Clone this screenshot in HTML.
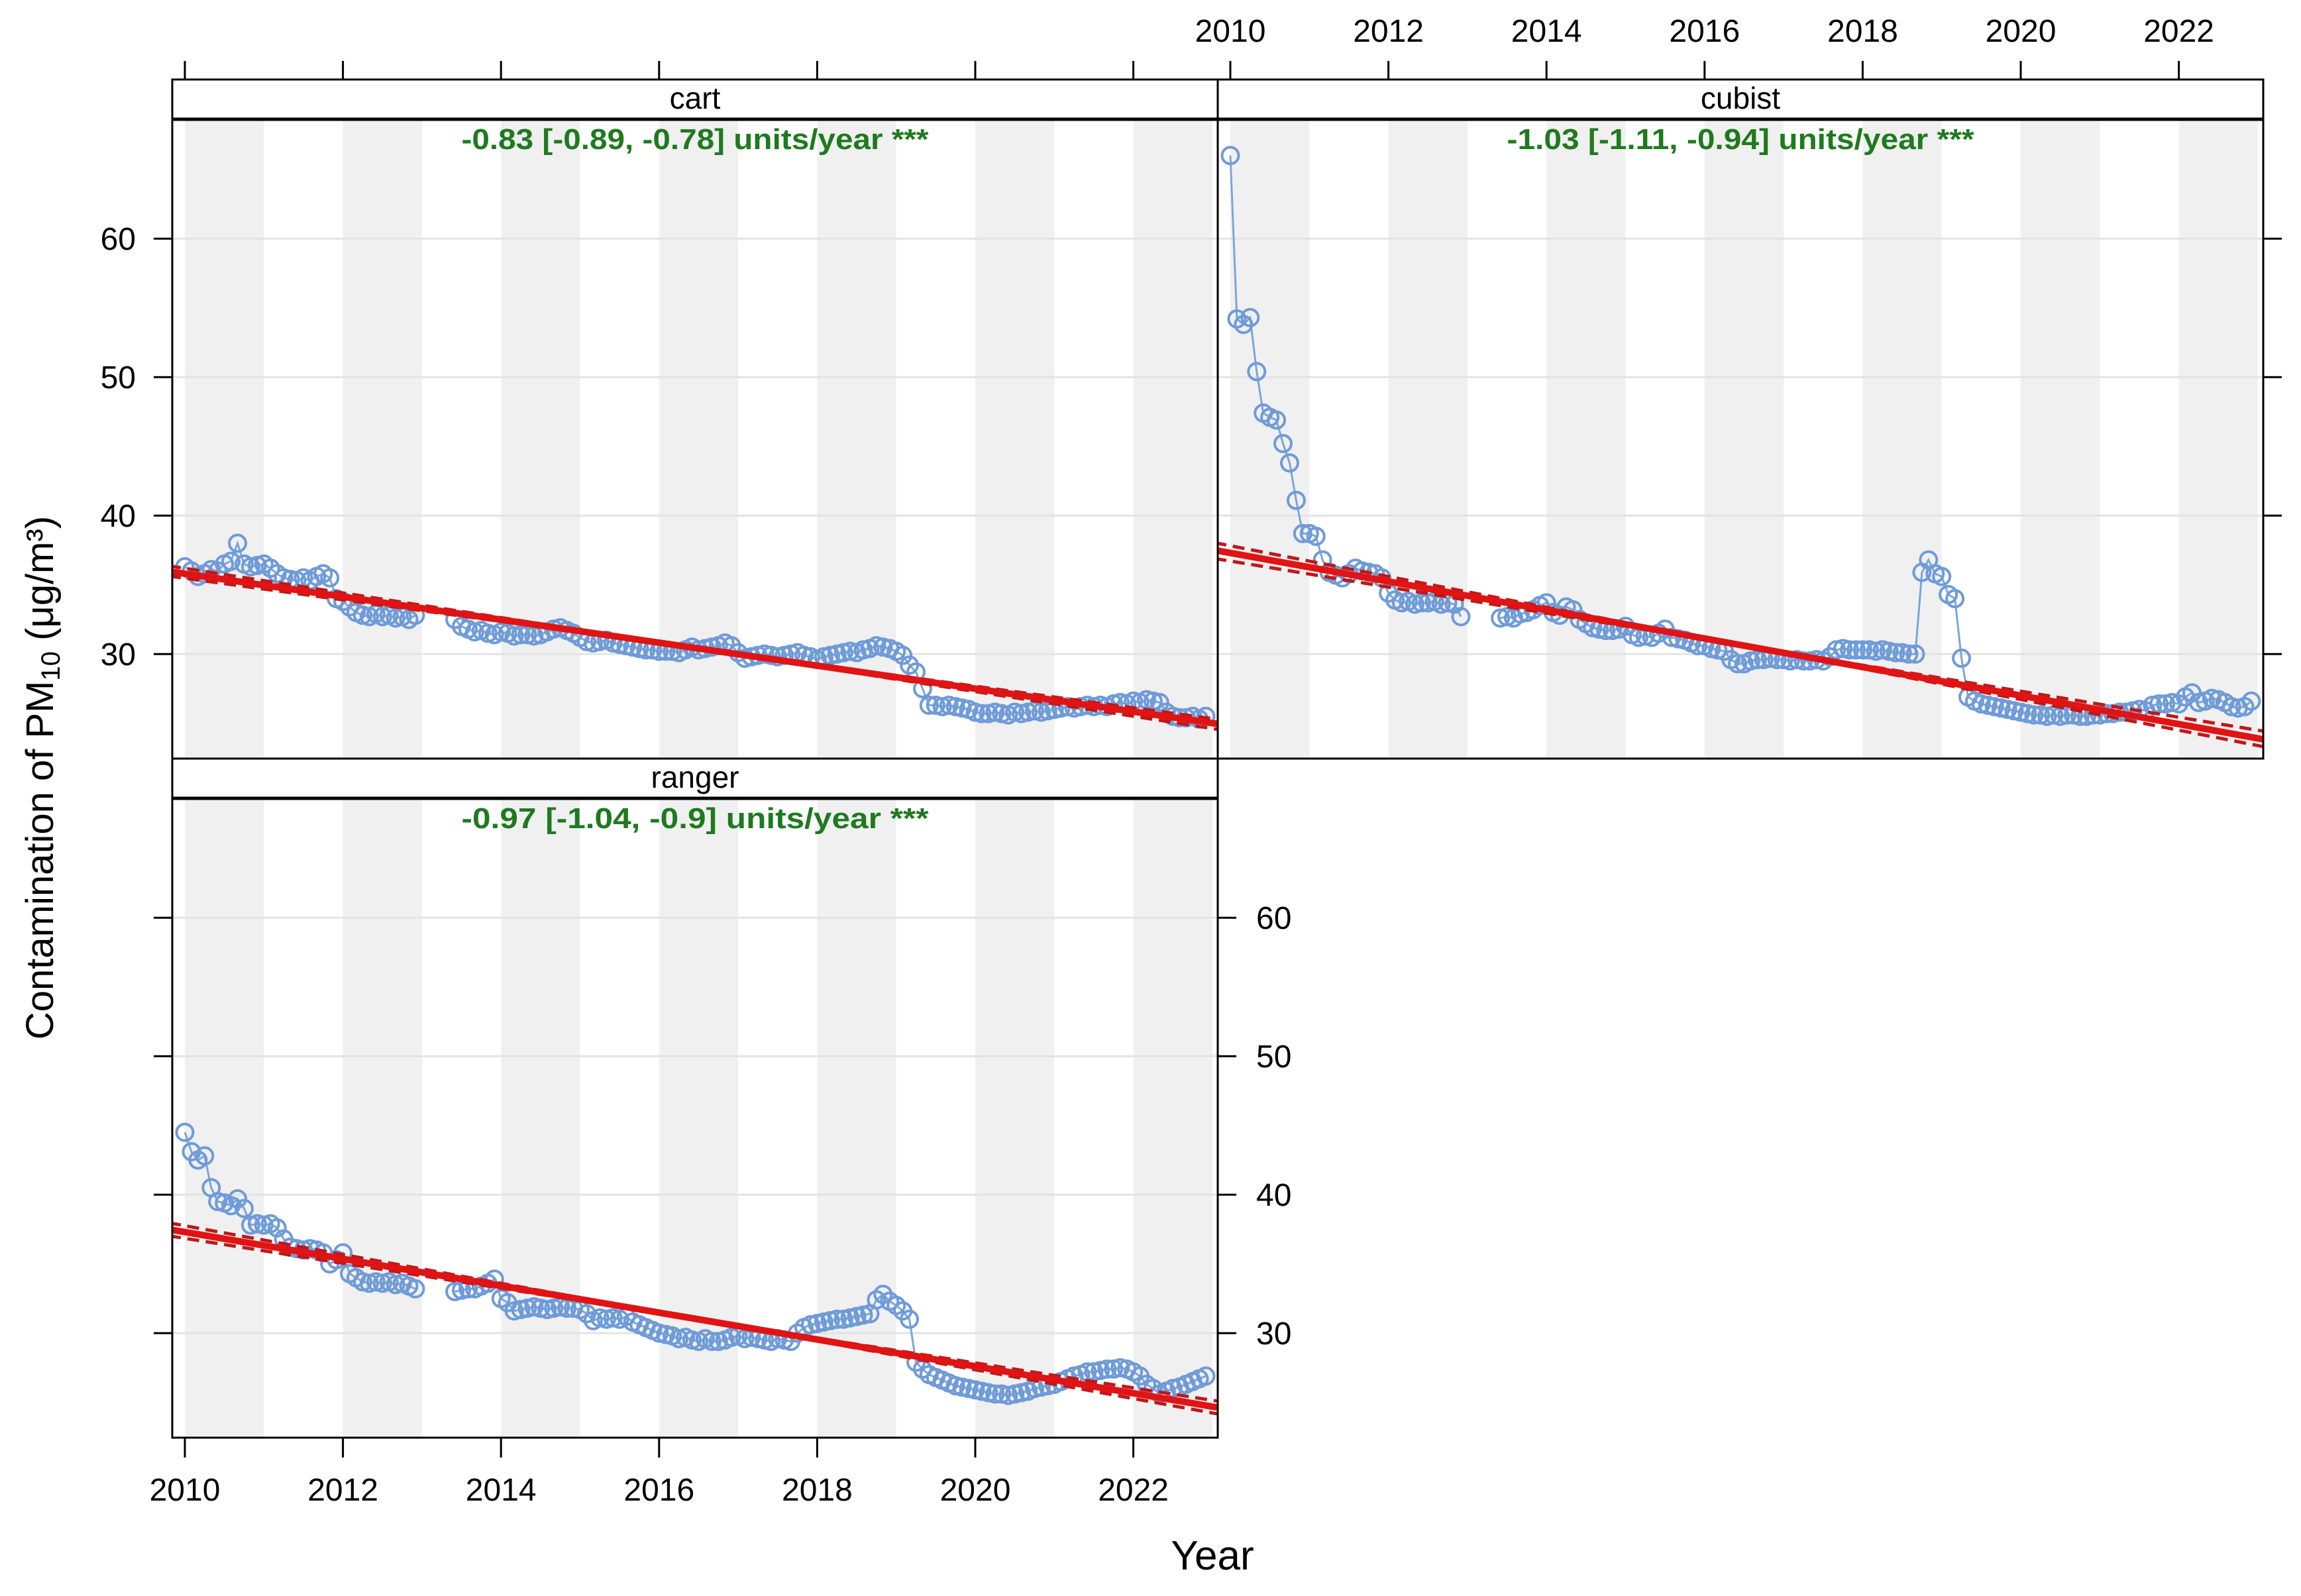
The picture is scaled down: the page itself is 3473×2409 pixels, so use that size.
<!DOCTYPE html>
<html><head><meta charset="utf-8"><style>
html,body{margin:0;padding:0;background:#fff;}
svg text{font-family:"Liberation Sans",Arial,sans-serif;}
</style></head><body>
<svg id="chart" xmlns="http://www.w3.org/2000/svg" width="3473" height="2404" viewBox="0 0 3473 2404"></svg>
<script>
// ---- data ----
const years = [2010,2011,2012,2013,2014,2015,2016,2017,2018,2019,2020,2021,2022];
const tickYears = [2010,2012,2014,2016,2018,2020,2022];
const yTicks = [30,40,50,60];
const N = null;
const cartValues = [
 36.3,36.0,35.6,35.8,36.1,36.0,36.5,36.7,38.0,36.5,36.3,36.4,
 36.5,36.2,35.8,35.5,35.4,35.3,35.5,35.3,35.6,35.8,35.5,34.0,
 33.8,33.4,33.0,32.8,32.7,32.9,32.7,32.8,32.6,32.7,32.5,32.8,
 N,N,N,N,N,32.5,32.0,31.8,31.6,31.7,31.5,31.4,
 31.6,31.5,31.3,31.4,31.4,31.3,31.4,31.6,31.8,31.9,31.7,31.5,
 31.2,30.9,30.8,30.9,31.0,30.8,30.7,30.6,30.5,30.4,30.3,30.3,
 30.2,30.2,30.2,30.1,30.3,30.5,30.3,30.4,30.5,30.6,30.8,30.6,
 30.1,29.7,29.8,29.9,30.0,29.9,29.8,29.9,30.0,30.1,29.9,29.8,
 29.6,29.8,29.9,30.0,30.1,30.2,30.1,30.3,30.4,30.6,30.5,30.4,
 30.2,29.9,29.2,28.7,27.5,26.3,26.3,26.2,26.3,26.2,26.1,26.0,
 25.8,25.7,25.7,25.8,25.7,25.6,25.8,25.7,25.8,25.9,25.8,25.9,
 26.0,26.1,26.2,26.1,26.2,26.3,26.2,26.3,26.2,26.4,26.5,26.4,
 26.6,26.5,26.7,26.6,26.5,25.8,25.5,25.4,25.4,25.5,25.3,25.5];
const cubistValues = [
 66.0,54.2,53.8,54.3,50.4,47.4,47.1,46.9,45.2,43.8,41.1,38.7,
 38.7,38.5,36.8,35.9,35.7,35.5,35.8,36.2,36.0,35.9,35.8,35.5,
 34.4,33.9,33.7,33.8,33.6,33.7,33.7,33.8,33.6,33.7,33.6,32.7,
 N,N,N,N,N,32.6,32.7,32.6,32.9,33.0,33.2,33.5,
 33.7,33.0,32.8,33.4,33.2,32.5,32.2,31.9,31.8,31.7,31.7,31.8,
 32.0,31.4,31.2,31.3,31.2,31.5,31.8,31.2,31.1,31.0,30.8,30.6,
 30.6,30.4,30.3,30.2,29.6,29.3,29.3,29.5,29.6,29.6,29.7,29.6,
 29.6,29.5,29.6,29.5,29.5,29.6,29.5,29.8,30.3,30.4,30.3,30.3,
 30.3,30.3,30.2,30.3,30.2,30.1,30.1,30.0,30.0,35.9,36.8,35.8,
 35.6,34.3,34.0,29.7,26.9,26.6,26.4,26.3,26.2,26.1,26.0,25.9,
 25.8,25.7,25.6,25.6,25.5,25.6,25.5,25.6,25.6,25.5,25.5,25.6,
 25.6,25.7,25.7,25.8,25.8,25.9,26.0,25.9,26.3,26.4,26.4,26.5,
 26.4,26.9,27.2,26.5,26.6,26.8,26.7,26.5,26.2,26.1,26.2,26.6];
const rangerValues = [
 44.5,43.1,42.5,42.8,40.5,39.5,39.4,39.2,39.7,39.0,37.8,37.9,
 37.8,37.9,37.6,36.8,36.2,36.1,36.0,36.1,36.0,35.8,35.0,35.3,
 35.8,34.3,34.0,33.7,33.6,33.7,33.6,33.7,33.5,33.6,33.4,33.2,
 N,N,N,N,N,33.0,33.1,33.2,33.2,33.4,33.6,33.9,
 32.5,32.2,31.6,31.7,31.8,31.9,31.8,31.7,31.8,31.9,31.8,31.8,
 31.7,31.4,30.9,31.1,31.0,31.1,31.0,31.2,30.8,30.6,30.4,30.2,
 30.0,29.9,29.8,29.6,29.7,29.5,29.4,29.6,29.4,29.4,29.5,29.7,
 29.8,29.6,29.7,29.6,29.5,29.4,29.6,29.5,29.4,30.0,30.4,30.6,
 30.7,30.8,30.9,31.0,31.0,31.1,31.2,31.3,31.4,32.4,32.8,32.3,
 32.0,31.6,31.0,27.9,27.4,27.0,26.8,26.6,26.4,26.2,26.1,26.0,
 25.9,25.8,25.7,25.6,25.6,25.5,25.6,25.7,25.8,26.0,26.1,26.2,
 26.3,26.5,26.7,26.9,27.0,27.2,27.2,27.3,27.4,27.4,27.5,27.4,
 27.2,26.9,26.3,26.0,25.6,25.8,26.0,26.1,26.3,26.5,26.7,26.9];
const panelNames = ["cart","cubist","ranger"];
const trendStart = [35.8, 37.3, 37.3];   // fitted value at 2010
const slopes = [-0.83, -1.03, -0.97];
const slopeLo = [-0.89, -1.11, -1.04];
const slopeHi = [-0.78, -0.94, -0.90];
const labels = ["-0.83 [-0.89, -0.78] units/year ***","-1.03 [-1.11, -0.94] units/year ***","-0.97 [-1.04, -0.9] units/year ***"];

// ---- layout ----
const NS = "http://www.w3.org/2000/svg";
const svg = document.getElementById("chart");
const PW = 1578, YPX = 20.9, XPX = 119.3;
const panels = [
 {x0:260, top:180, bottom:1145, stripTop:120},
 {x0:1838, top:180, bottom:1145, stripTop:120},
 {x0:260, top:1205, bottom:2170, stripTop:1145}
];
function el(tag, attrs, parent){ const e=document.createElementNS(NS,tag); for(const k in attrs) e.setAttribute(k,attrs[k]); (parent||svg).appendChild(e); return e; }
function xs(p,t){ return p.x0+19+(t-2010)*XPX; }
function ys(p,v){ return p.bottom-(v-22.45)*YPX; }
const seriesList=[cartValues,cubistValues,rangerValues];

const defs = el("defs",{});
panels.forEach((p,i)=>{
 const cp = el("clipPath",{id:"clip"+i},defs);
 el("rect",{x:p.x0,y:p.top,width:PW,height:p.bottom-p.top},cp);
});

panels.forEach((p,i)=>{
 const g = el("g",{});
 
 
 years.forEach(yr=>{
   if(yr%2===0){
     const r = el("rect",{x:xs(p,yr),y:p.top,width:XPX,height:p.bottom-p.top,fill:"#f0f0f0"},g);
     
     
   }
 });
 yTicks.forEach(v=>{
   const l = el("line",{x1:p.x0,x2:p.x0+PW,y1:ys(p,v),y2:ys(p,v),stroke:"#e3e3e3","stroke-width":3},g);
   
   
 });
 const cg = el("g",{"clip-path":"url(#clip"+i+")"},g);
 const vals = seriesList[i];
 let segs=[], cur=[];
 vals.forEach((v,k)=>{ const t=2010+k/12; if(v===null){ if(cur.length) segs.push(cur); cur=[]; } else cur.push([xs(p,t),ys(p,v)]); });
 if(cur.length) segs.push(cur);
 segs.forEach(s=>{
   const pl = el("polyline",{points:s.map(q=>q.join(",")).join(" "),fill:"none",stroke:"#7ba5dc","stroke-width":3},cg);
   
   
 });
 vals.forEach((v,k)=>{ if(v===null) return; const t=2010+k/12;
   const c = el("circle",{cx:xs(p,t),cy:ys(p,v),r:12.5,fill:"none",stroke:"#6f9bd8","stroke-width":4},cg);
   
   
 });
 const tc = 2016.5, yc = trendStart[i]+slopes[i]*(tc-2010);
 const tEnd = 2010+(PW-19)/XPX;
 [[slopeLo[i],"lo"],[slopeHi[i],"hi"]].forEach(([s,n])=>{
   const l = el("line",{x1:xs(p,2009.8),y1:ys(p,yc+s*(2009.8-tc)),x2:xs(p,tEnd),y2:ys(p,yc+s*(tEnd-tc)),stroke:"#c01818","stroke-width":5,"stroke-dasharray":"18,10"},cg);
   
   
 });
 const tl = el("line",{x1:xs(p,2009.8),y1:ys(p,trendStart[i]+slopes[i]*(-0.2)),x2:xs(p,tEnd),y2:ys(p,trendStart[i]+slopes[i]*(tEnd-2010)),stroke:"#e01414","stroke-width":10},cg);
 
 
 const an = el("text",{x:p.x0+PW/2,y:p.top+45,"text-anchor":"middle","font-size":44,"font-weight":"bold",fill:"#1e7a1e",textLength:705,lengthAdjust:"spacingAndGlyphs"},g);
 an.textContent = labels[i];
 
 
 const b = el("rect",{x:p.x0,y:p.top,width:PW,height:p.bottom-p.top,fill:"none",stroke:"#000","stroke-width":3},g);
 
 
 const st = el("rect",{x:p.x0,y:p.stripTop,width:PW,height:p.top-p.stripTop,fill:"#fff",stroke:"#000","stroke-width":3},g);
 
 
 el("line",{x1:p.x0,x2:p.x0+PW,y1:p.top,y2:p.top,stroke:"#000","stroke-width":5},g);
 const stt = el("text",{x:p.x0+PW/2,y:p.top-16,"text-anchor":"middle","font-size":46,fill:"#000"},g);
 stt.textContent = panelNames[i];
 
 
});

const ax = el("g",{stroke:"#000","stroke-width":3});


[panels[0],panels[1]].forEach((p,i)=>{
 tickYears.forEach(yr=>{ el("line",{x1:xs(p,yr),x2:xs(p,yr),y1:92,y2:120},ax); });
});
tickYears.forEach(yr=>{
 const t = el("text",{x:xs(panels[1],yr),y:63,"text-anchor":"middle","font-size":48,fill:"#000"});
 t.textContent = yr;
 
 
});
tickYears.forEach(yr=>{
 const p=panels[2];
 el("line",{x1:xs(p,yr),x2:xs(p,yr),y1:2170,y2:2200},ax);
 const t = el("text",{x:xs(p,yr),y:2265,"text-anchor":"middle","font-size":48,fill:"#000"});
 t.textContent = yr;
 
 
});
yTicks.forEach(v=>{
 const pc=panels[0], pu=panels[1], pr=panels[2];
 el("line",{x1:232,x2:260,y1:ys(pc,v),y2:ys(pc,v)},ax);
 const t1 = el("text",{x:205,y:ys(pc,v)+17,"text-anchor":"end","font-size":48,fill:"#000"});
 t1.textContent=v;
 
 
 el("line",{x1:pu.x0+PW,x2:pu.x0+PW+28,y1:ys(pu,v),y2:ys(pu,v)},ax);
 el("line",{x1:232,x2:260,y1:ys(pr,v),y2:ys(pr,v)},ax);
 el("line",{x1:pr.x0+PW,x2:pr.x0+PW+28,y1:ys(pr,v),y2:ys(pr,v)},ax);
 const t2 = el("text",{x:1896,y:ys(pr,v)+17,"text-anchor":"start","font-size":48,fill:"#000"});
 t2.textContent=v;
 
 
});
const xt = el("text",{x:1830,y:2369,"text-anchor":"middle","font-size":62,fill:"#000"});
xt.textContent="Year";


const yt = el("text",{x:0,y:0,"text-anchor":"middle","font-size":58,fill:"#000",transform:"translate(80,1174) rotate(-90)"});


const s1=el("tspan",{},yt); s1.textContent="Contamination of PM";
const s2=el("tspan",{"font-size":40,dy:10},yt); s2.textContent="10";
const s3=el("tspan",{dy:-10},yt); s3.textContent=" (μg/m³)";
</script>
</body></html>
